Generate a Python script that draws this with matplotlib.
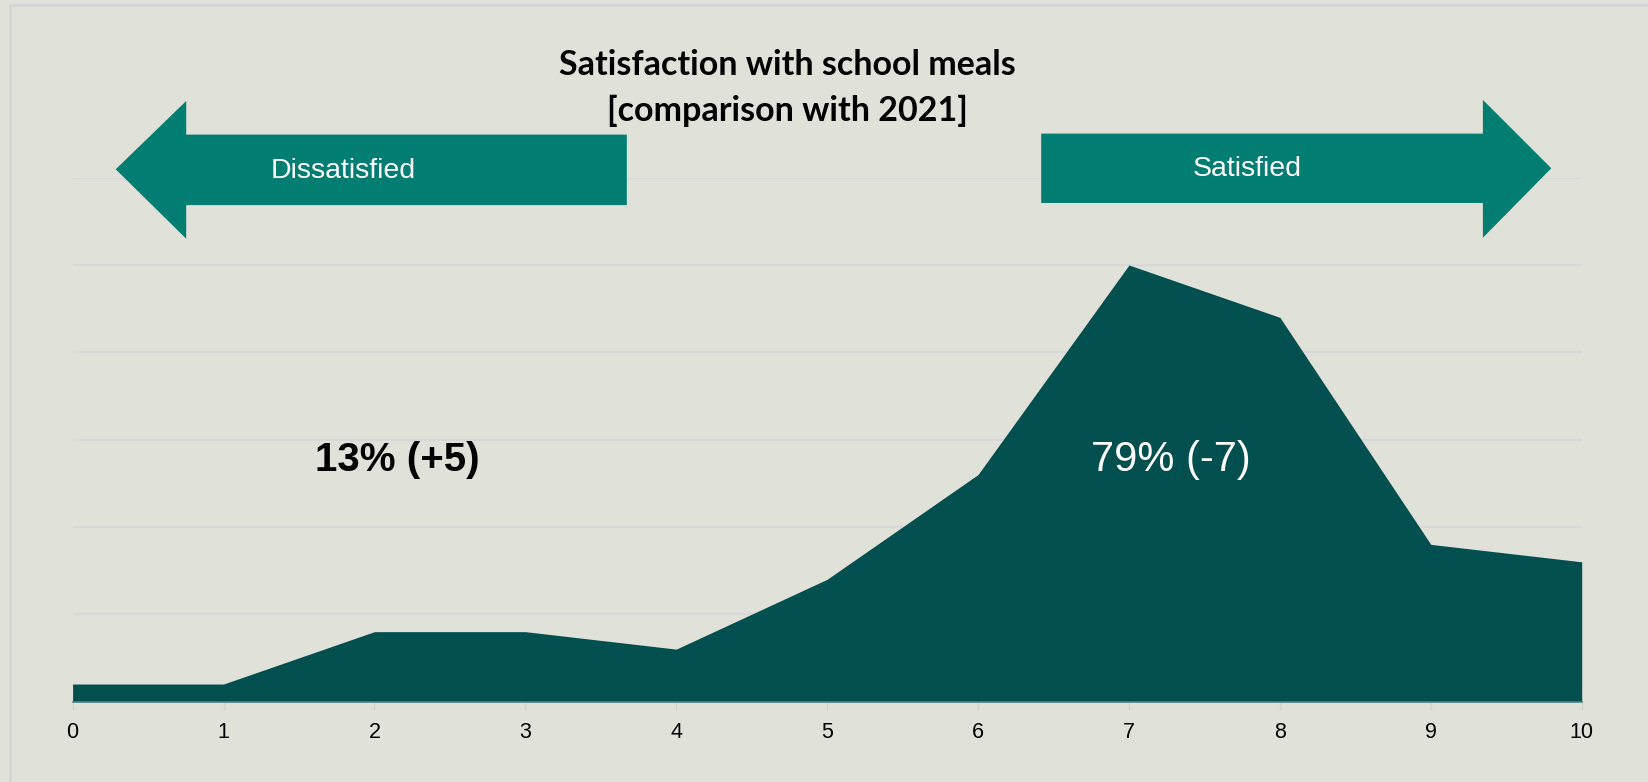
import matplotlib.pyplot as plt
from matplotlib.patches import Polygon
from matplotlib.lines import Line2D

# data: share of respondents (%) for each score 0..10
scores = [0, 1, 2, 3, 4, 5, 6, 7, 8, 9, 10]
shares = [1, 1, 4, 4, 3, 7, 13, 25, 22, 9, 8]
title_lines = ["Satisfaction with school meals", "[comparison with 2021]"]
dissat_label = "13% (+5)"
sat_label = "79% (-7)"

BG = '#e0e1d9'
AREA = '#024f50'
ARROW = '#027d71'

W, H = 1649, 782
fig = plt.figure(figsize=(W / 100, H / 100), dpi=100, facecolor=BG)
ax = fig.add_axes([72.6 / W, (H - 701.5) / H, (1581.7 - 72.6) / W, (701.5 - 177.7) / H])
ax.set_facecolor(BG)

ax.set_xlim(0, 10)
ax.set_ylim(0, 30)
ax.set_yticks(range(0, 31, 5))
ax.yaxis.grid(True, color='#d8d8da', lw=1.6)
ax.set_axisbelow(True)
ax.tick_params(axis='y', left=False, labelleft=False)
ax.set_xticks(scores)
ax.tick_params(axis='x', length=6, width=1, color='#cfd0cc', pad=9,
               labelsize=15.5, labelcolor='black')
for lab in ax.get_xticklabels():
    lab.set_fontfamily('Liberation Sans')
for s in ['left', 'right', 'top']:
    ax.spines[s].set_visible(False)
ax.spines['bottom'].set_color('#4f8082')
ax.spines['bottom'].set_linewidth(1.2)

ax.fill_between(scores, shares, 0, color=AREA, lw=0, zorder=2)

ax.text(2.15, 13.85, dissat_label, ha='center', va='center', fontsize=29,
        fontweight='bold', color='black', family='Liberation Sans', zorder=3)
ax.text(7.28, 13.85, sat_label, ha='center', va='center', fontsize=30,
        color='white', family='Liberation Sans', zorder=3)


def px(points):
    # pixel coords (top-left origin) -> figure fraction
    return [(x / W, 1 - y / H) for x, y in points]


left_arrow = [(115.7, 169.3), (186.2, 101), (186.2, 134.6), (626.8, 134.6),
              (626.8, 205.1), (186.2, 205.1), (186.2, 238.7)]
right_arrow = [(1551.3, 168.3), (1482.9, 99.9), (1482.9, 133.6), (1041.2, 133.6),
               (1041.2, 203), (1482.9, 203), (1482.9, 237.7)]
for pts in (left_arrow, right_arrow):
    fig.patches.append(Polygon(px(pts), closed=True, transform=fig.transFigure,
                               facecolor=ARROW, edgecolor='none', zorder=3))

fig.text(342.9 / W, 1 - 171.4 / H, "Dissatisfied", ha='center', va='center',
         fontsize=20.5, color='white', family='Liberation Sans', zorder=4)
fig.text(1247.3 / W, 1 - 169.3 / H, "Satisfied", ha='center', va='center',
         fontsize=20.5, color='white', family='Liberation Sans', zorder=4)

for line, y in zip(title_lines, [65, 110.5]):
    fig.text(787 / W, 1 - y / H, line, ha='center', va='center', fontsize=24.5,
             fontweight='bold', color='black', family='Lato', zorder=4)

# faint chart border
fig.add_artist(Line2D([9.5 / W, 1], [1 - 4.5 / H, 1 - 4.5 / H], transform=fig.transFigure,
                      color='#d3d4d6', lw=2))
fig.add_artist(Line2D([9.5 / W, 9.5 / W], [1 - 4.5 / H, 0], transform=fig.transFigure,
                      color='#d3d4d6', lw=2))

fig.savefig('out.png', dpi=100, facecolor=BG)
